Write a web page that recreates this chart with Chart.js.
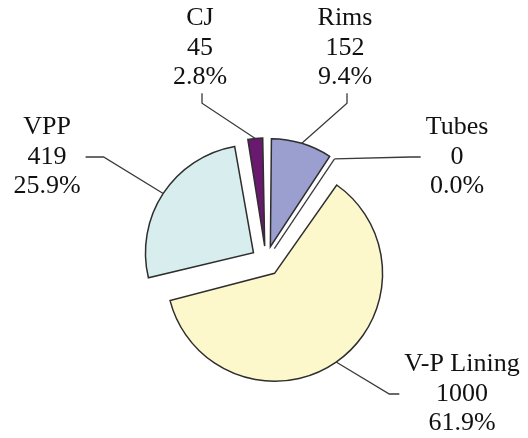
<!DOCTYPE html>
<html>
<head>
<meta charset="utf-8">
<script src="https://cdn.jsdelivr.net/npm/chart.js@4"></script>
<style>
  html, body { margin: 0; padding: 0; background: #fff; }
  #wrap { width: 528px; height: 438px; position: relative; }
</style>
</head>
<body>
<div id="wrap"><canvas id="chart"></canvas></div>
<script>
// slices, clockwise from 12 o'clock
const categories = ["Rims", "Tubes", "V-P Lining", "VPP", "CJ"];
const counts = [152, 0, 1000, 419, 45];

const sliceColors = ["#9a9fd0", "#c8c8e8", "#fdf8cc", "#d8eeee", "#6a1a6e"];

// label block centre (relative to pie centre) and which side the leader leaves from
const labelLayout = [
  { dx: 79, dy: -213, side: "bottom" },
  { dx: 191, dy: -104, side: "left" },
  { dx: 196, dy: 133, side: "left" },
  { dx: -219, dy: -104, side: "right" },
  { dx: -66, dy: -213, side: "bottom" },
];

const RADIUS = 108;
const EXPLODE = 15;          // px each slice is pulled out
const FONT_SIZE = 26;
const LINE_H = 29.5;

const total = counts.reduce((a, b) => a + b, 0);
const pct = (v) => (v / total * 100).toFixed(1) + "%";

// chart.js translates an arc by offset/4 but also grows its radius by
// offset/4 * (1 - sin(circ)); shrink the radius back so all slices stay RADIUS
const explodePlugin = {
  id: "evenExplode",
  afterDatasetUpdate(chart, args) {
    const meta = chart.getDatasetMeta(args.index);
    meta.data.forEach((arc) => {
      const fix = 1 - Math.sin(Math.min(Math.PI, arc.circumference || 0));
      arc.outerRadius = RADIUS - EXPLODE * fix;
    });
  },
};

const labelPlugin = {
  id: "sliceLabels",
  afterDatasetsDraw(chart) {
    const { ctx } = chart;
    const meta = chart.getDatasetMeta(0);
    ctx.save();
    ctx.strokeStyle = "#3a3a3a";
    ctx.lineWidth = 1.3;
    ctx.font = FONT_SIZE + 'px "Liberation Serif", "Times New Roman", serif';
    ctx.fillStyle = "#111";
    ctx.textAlign = "center";
    ctx.textBaseline = "middle";

    meta.data.forEach((arc, i) => {
      const cx = arc.x, cy = arc.y;
      const mid = (arc.startAngle + arc.endAngle) / 2;
      const ox = cx + Math.cos(mid) * EXPLODE;
      const oy = cy + Math.sin(mid) * EXPLODE;
      const edgeX = ox + Math.cos(mid) * RADIUS;
      const edgeY = oy + Math.sin(mid) * RADIUS;

      // a zero slice still shows as a single radial edge
      if (counts[i] === 0) {
        ctx.beginPath();
        ctx.moveTo(ox, oy);
        ctx.lineTo(edgeX, edgeY);
        ctx.stroke();
      }

      const lay = labelLayout[i];
      const lx = cx + lay.dx, ly = cy + lay.dy;
      const lines = [categories[i], String(counts[i]), pct(counts[i])];
      const w = Math.max(...lines.map((t) => ctx.measureText(t).width));

      let ax, ay, ex, ey;
      if (lay.side === "bottom") {
        ax = lx + 2; ay = ly + LINE_H * 1.5 + 1;
        ex = ax; ey = ay + 10;
      } else if (lay.side === "left") {
        ax = lx - w / 2 - 5; ay = ly;
        ex = ax - 10; ey = ay;
      } else {
        ax = lx + w / 2 + 5; ay = ly;
        ex = ax + 18; ey = ay;
      }
      ctx.beginPath();
      ctx.moveTo(ax, ay);
      ctx.lineTo(ex, ey);
      ctx.lineTo(edgeX, edgeY);
      ctx.stroke();

      lines.forEach((t, k) => ctx.fillText(t, lx, ly + (k - 1) * LINE_H));
    });
    ctx.restore();
  },
};

new Chart(document.getElementById("chart"), {
  type: "pie",
  data: {
    labels: categories,
    datasets: [{
      data: counts,
      backgroundColor: sliceColors,
      borderColor: "#2e2e2e",
      borderWidth: 1.5,
      borderJoinStyle: "miter",
      offset: EXPLODE * 4,
    }],
  },
  options: {
    responsive: true,
    maintainAspectRatio: false,
    animation: false,
    radius: RADIUS,
    layout: { padding: { left: 4, top: 84, right: 0, bottom: 0 } },
    plugins: {
      legend: { display: false },
      tooltip: { enabled: false },
    },
  },
  plugins: [explodePlugin, labelPlugin],
});
</script>
</body>
</html>
